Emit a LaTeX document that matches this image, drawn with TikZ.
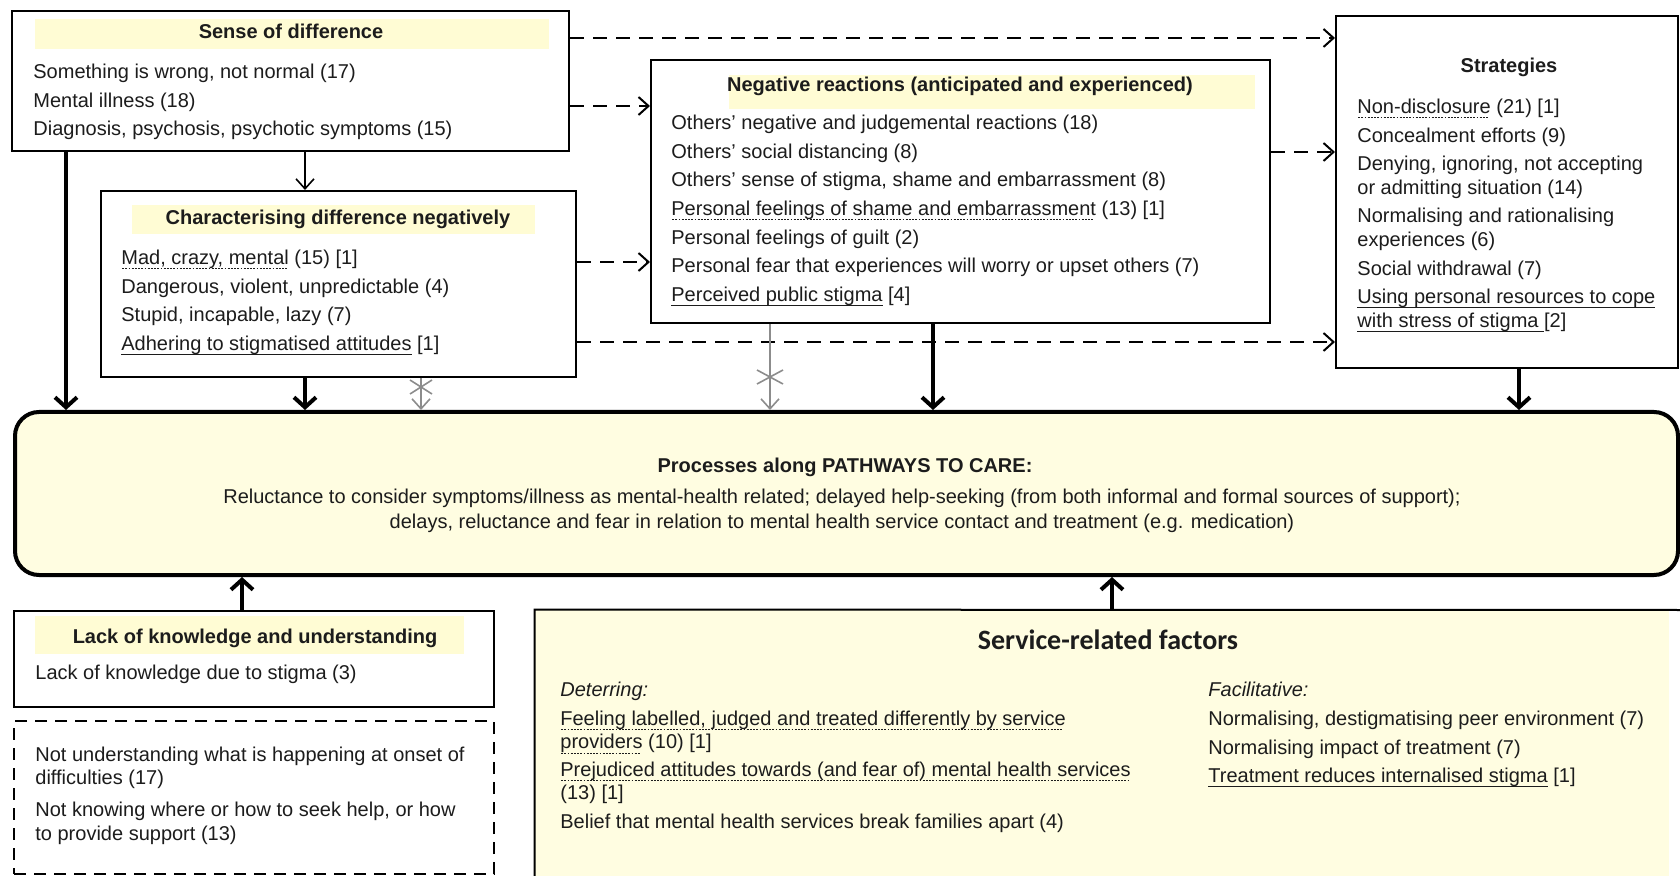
\documentclass[tikz,border=0pt]{standalone}
\usepackage{fontspec}
\setmainfont{Liberation Sans}
\newfontfamily\calfont{Carlito}
\usetikzlibrary{arrows.meta,fit}
\definecolor{hdr}{RGB}{255,252,212}
\definecolor{pfill}{RGB}{255,253,225}
\definecolor{txt}{RGB}{28,28,28}
\definecolor{grayar}{RGB}{140,140,140}
\newsavebox\ulbx
\newcommand\dotul[1]{\sbox\ulbx{#1}\rlap{\raisebox{-2.3pt}{\hbox to \wd\ulbx{\leaders\hbox to 1.6pt{\hss\rule{0.9pt}{0.5pt}\hss}\hfill}}}\usebox\ulbx}
\newcommand\solul[1]{\sbox\ulbx{#1}\rlap{\raisebox{-2.3pt}{\rule{\wd\ulbx}{0.6pt}}}\usebox\ulbx}
\newcommand\fl{\rule{0pt}{8pt}}
\begin{document}
\begin{tikzpicture}[x=0.5pt,y=-0.5pt,
  every node/.style={text=txt},
  box/.style={draw=black, line width=1pt, inner sep=0pt},
  band/.style={fill=hdr, inner sep=0pt},
  ttl/.style={font=\fontsize{10}{12}\selectfont\bfseries, inner sep=0pt, text height=7.3pt, text depth=2pt},
  body/.style={align=left, anchor=north west, inner sep=0pt, font=\fontsize{10}{11.75}\selectfont},
  dasharr/.style={line width=1pt, dash pattern=on 7pt off 4.5pt, -{Straight Barb[length=5pt,width=9pt,line width=1pt]}},
  thinarr/.style={line width=0.8pt, -{Straight Barb[length=5pt,width=9pt,line width=0.8pt]}},
  thickarr/.style={line width=2pt, -{Straight Barb[length=5pt,width=11pt,line width=2pt]}},
  grayarr/.style={draw=grayar, line width=0.8pt, -{Straight Barb[length=5pt,width=9pt,line width=0.8pt]}},
  crossmark/.style={draw=grayar, line width=0.8pt}
]
\fill[white] (0,0) rectangle (1680,876);
\useasboundingbox (0,0) rectangle (1680,876);

% ---------- Sense of difference ----------
\node[box, fit={(12,11) (569,151)}] (sense) {};
\node[band, fit={(35,19) (549,49)}] (senseband) {};
\node[ttl] (sensettl) at (291,33) {Sense of difference};
\node[body] (sensebody) at (33,62) {\fl Something is wrong, not normal (17)\\[2.6pt]
Mental illness (18)\\[2.6pt]
Diagnosis, psychosis, psychotic symptoms (15)};

% ---------- Characterising difference negatively ----------
\node[box, fit={(101,191) (576,377)}] (char) {};
\node[band, fit={(132,205) (535,234)}] (charband) {};
\node[ttl] (charttl) at (338,219) {Characterising difference negatively};
\node[body] (charbody) at (121,248) {\fl\dotul{Mad, crazy, mental} (15) [1]\\[2.6pt]
Dangerous, violent, unpredictable (4)\\[2.6pt]
Stupid, incapable, lazy (7)\\[2.6pt]
\solul{Adhering to stigmatised attitudes} [1]};

% ---------- Negative reactions ----------
\node[box, fit={(651,60) (1270,323)}] (neg) {};
\node[band, fit={(729,75) (1255,109)}] (negband) {};
\node[ttl] (negttl) at (960,86) {Negative reactions (anticipated and experienced)};
\node[body] (negbody) at (671,113) {\fl Others' negative and judgemental reactions (18)\\[2.6pt]
Others' social distancing (8)\\[2.6pt]
Others' sense of stigma, shame and embarrassment (8)\\[2.6pt]
\dotul{Personal feelings of shame and embarrassment} (13) [1]\\[2.6pt]
Personal feelings of guilt (2)\\[2.6pt]
Personal fear that experiences will worry or upset others (7)\\[2.6pt]
\solul{Perceived public stigma} [4]};

% ---------- Strategies ----------
\node[box, fit={(1336,16) (1678,368)}] (strat) {};
\node[ttl] (stratttl) at (1509,67) {Strategies};
\node[body] (stratbody) at (1357,97) {\fl\dotul{Non-disclosure} (21) [1]\\[2.6pt]
Concealment efforts (9)\\[2.6pt]
Denying, ignoring, not accepting\\
or admitting situation (14)\\[2.6pt]
Normalising and rationalising\\
experiences (6)\\[2.6pt]
Social withdrawal (7)\\[2.6pt]
\solul{Using personal resources to cope}\\
\solul{with stress of stigma }[2]};

% ---------- Processes along pathways to care ----------
\node[draw=black, line width=2pt, rounded corners=12pt, fill=pfill, inner sep=0pt,
      fit={(15,412) (1678,575)}] (proc) {};
\node[ttl] (procttl) at (845,467) {Processes along PATHWAYS TO CARE:};
\node[align=center, anchor=north, inner sep=0pt, font=\fontsize{10}{12.5}\selectfont] (procbody) at (842,487)
{\fl Reluctance to consider symptoms/illness as mental-health related; delayed help-seeking (from both informal and formal sources of support);\\
delays, reluctance and fear in relation to mental health service contact and treatment (e.g. medication)};

% ---------- Lack of knowledge ----------
\node[box, fit={(14,611) (494,707)}] (lack) {};
\node[band, fit={(35,616) (464,654)}] (lackband) {};
\node[ttl] (lackttl) at (255,638) {Lack of knowledge and understanding};
\node[body] (lackbody) at (35,663) {\fl Lack of knowledge due to stigma (3)};

\node[draw=black, line width=1pt, dash pattern=on 6pt off 4pt, inner sep=0pt,
      fit={(14,721) (494,874)}] (notknow) {};
\node[body] (notknowbody) at (35,745) {\fl Not understanding what is happening at onset of\\
difficulties (17)\\[4.2pt]
Not knowing where or how to seek help, or how\\
to provide support (13)};

% ---------- Service-related factors ----------
\node[fill=pfill, inner sep=0pt, fit={(535,610) (1669,880)}] (serv) {};
\draw[line width=1pt] (serv.south west) -- (serv.north west) -- (1680,610);
\node[inner sep=0pt, font=\calfont\bfseries\fontsize{14}{16}\selectfont] (servttl) at (1108,640) {Service-related factors};
\node[body] (deter) at (560,680) {\fl\textit{Deterring:}\\[2.75pt]
\dotul{Feeling labelled, judged and treated differently by service}\\
\dotul{providers} (10) [1]\\[2pt]
\dotul{Prejudiced attitudes towards (and fear of) mental health services}\\
(13) [1]\\[2.75pt]
Belief that mental health services break families apart (4)};
\node[body] (facil) at (1208,680) {\fl\textit{Facilitative:}\\[2.75pt]
Normalising, destigmatising peer environment (7)\\[2.6pt]
Normalising impact of treatment (7)\\[2.6pt]
\solul{Treatment reduces internalised stigma} [1]};

% ---------- Connectors ----------
\draw[dasharr] (sense.east |- 0,38) -- (strat.west |- 0,38);
\draw[dasharr] (sense.east |- 0,106) -- (neg.west |- 0,106);
\draw[dasharr] (char.east |- 0,262) -- (neg.west |- 0,262);
\draw[dasharr] (char.east |- 0,342) -- (strat.west |- 0,342);
\draw[dasharr] (neg.east |- 0,152) -- (strat.west |- 0,152);

\draw[thinarr] (sense.south -| 305,0) -- (char.north -| 305,0);

\draw[thickarr] (sense.south -| 66,0) -- (proc.north -| 66,0);
\draw[thickarr] (char.south -| 305,0) -- (proc.north -| 305,0);
\draw[thickarr] (neg.south -| 933,0) -- (proc.north -| 933,0);
\draw[thickarr] (strat.south -| 1519,0) -- (proc.north -| 1519,0);

\draw[grayarr] (char.south -| 421,0) -- (proc.north -| 421,0);
\draw[crossmark] (410,380) -- (432,394) (410,394) -- (432,380);
\draw[grayarr] (neg.south -| 770,0) -- (proc.north -| 770,0);
\draw[crossmark] (757,370) -- (783,384) (757,384) -- (783,370);

\draw[thickarr] (lack.north -| 242,0) -- (proc.south -| 242,0);
\draw[thickarr] (serv.north -| 1112,0) -- (proc.south -| 1112,0);
\end{tikzpicture}
\end{document}
